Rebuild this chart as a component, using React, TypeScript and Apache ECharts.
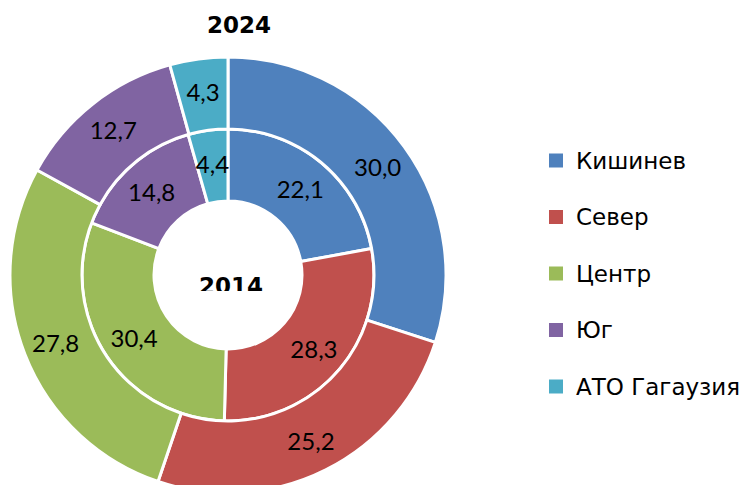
import React, { useEffect, useRef } from "react";
import * as echarts from "echarts";

const categories = ["Кишинев", "Север", "Центр", "Юг", "АТО Гагаузия"];
const values2024 = [30.0, 25.2, 27.8, 12.7, 4.3];
const values2014 = [22.1, 28.3, 30.4, 14.8, 4.4];
const colors = ["#4F81BD", "#C0504D", "#9BBB59", "#8064A2", "#4BACC6"];
const outerTitle = "2024";
const innerTitle = "2014";

export default function App() {
  const ref = useRef<HTMLDivElement>(null);
  useEffect(() => {
    if (!ref.current) return;
    const chart = echarts.init(ref.current, null, { renderer: "svg" });
    const fmt = (p: any) => p.value.toFixed(1).replace(".", ",");
    const label = {
      show: true,
      position: "inside",
      formatter: fmt,
      color: "#000",
      fontFamily: "Lato",
      fontSize: 24,
    };
    const mk = (vals: number[]) =>
      vals.map((v, i) => ({ name: categories[i], value: v, itemStyle: { color: colors[i] } }));
    chart.setOption({
      animation: false,
      color: colors,
      legend: {
        orient: "vertical",
        left: 547,
        top: 149,
        padding: 0,
        itemWidth: 16,
        itemHeight: 16,
        itemGap: 33.5,
        icon: "rect",
        data: categories,
        textStyle: {
          fontFamily: "DejaVu Sans",
          fontSize: 23,
          lineHeight: 23,
          color: "#000",
          padding: [0, 0, 0, 7],
        },
      },
      series: [
        {
          type: "pie",
          name: innerTitle,
          center: [228, 275],
          radius: [74, 146],
          startAngle: 90,
          clockwise: true,
          label,
          labelLine: { show: false },
          itemStyle: { borderColor: "#fff", borderWidth: 3 },
          emphasis: { disabled: true },
          data: mk(values2014),
        },
        {
          type: "pie",
          name: outerTitle,
          center: [228, 275],
          radius: [146, 218],
          startAngle: 90,
          clockwise: true,
          label,
          labelLine: { show: false },
          itemStyle: { borderColor: "#fff", borderWidth: 3 },
          emphasis: { disabled: true },
          data: mk(values2024),
        },
      ],
      graphic: [
        {
          type: "text",
          x: 239,
          y: 25,
          z: 10,
          style: {
            text: outerTitle,
            fontFamily: "DejaVu Sans",
            fontWeight: "bold",
            fontSize: 23,
            fill: "#000",
            textAlign: "center",
            textVerticalAlign: "middle",
          },
        },
        {
          type: "text",
          x: 231,
          y: 286,
          z: 10,
          style: {
            text: innerTitle,
            fontFamily: "DejaVu Sans",
            fontWeight: "bold",
            fontSize: 23,
            fill: "#000",
            textAlign: "center",
            textVerticalAlign: "middle",
          },
        },
        {
          type: "rect",
          z: 11,
          shape: { x: 192, y: 291, width: 78, height: 10 },
          style: { fill: "#fff" },
        },
      ],
    });
    return () => chart.dispose();
  }, []);
  return (
    <div
      ref={ref}
      style={{ position: "absolute", left: 0, top: 0, width: 744, height: 485, background: "#fff" }}
    />
  );
}
